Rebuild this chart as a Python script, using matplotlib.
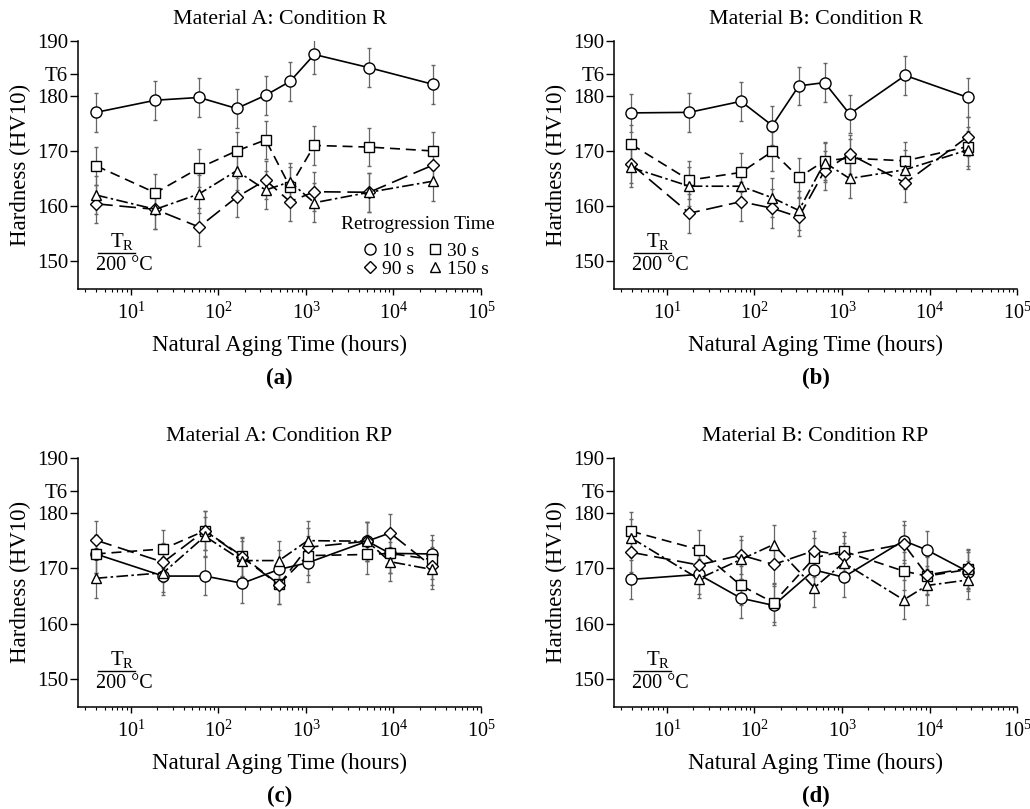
import matplotlib
matplotlib.use('Agg')
from matplotlib import pyplot as plt
from matplotlib.lines import Line2D
from matplotlib.ticker import FixedLocator, LogLocator, NullFormatter

plt.rcParams['font.family'] = ['Liberation Serif', 'DejaVu Serif']
plt.rcParams['mathtext.fontset'] = 'custom'
plt.rcParams['mathtext.rm'] = 'Liberation Serif'
plt.rcParams['mathtext.it'] = 'Liberation Serif:italic'

# natural aging time (hours) and hardness (HV10) per retrogression time
times_a = [4, 19, 60, 161, 346, 656, 1245, 5280, 28000]
hv10_a = [177.0, 179.2, 179.7, 177.7, 180.1, 182.6, 187.5, 185.1, 182.1]
hv30_a = [167.3, 162.4, 166.9, 170.0, 172.0, 163.5, 171.0, 170.7, 170.0]
hv90_a = [160.4, 159.4, 156.2, 161.6, 164.7, 160.8, 162.6, 162.5, 167.4]
hv150_a = [162.0, 159.4, 162.2, 166.4, 162.9, 164.4, 160.6, 162.5, 164.5]

times_b = [3.9, 18, 70, 160, 321, 632, 1222, 5280, 27500]
hv10_b = [176.9, 177.0, 179.0, 174.6, 181.8, 182.4, 176.7, 183.7, 179.7]
hv30_b = [171.2, 164.7, 166.1, 169.9, 165.2, 168.2, 168.7, 168.2, 170.8]
hv90_b = [167.6, 158.7, 160.8, 159.6, 158.0, 166.4, 169.4, 164.2, 172.6]
hv150_b = [167.0, 163.6, 163.6, 161.5, 159.2, 167.9, 165.0, 166.6, 170.2]

times_c = [3.95, 23.4, 70, 187, 491, 1045, 5010, 9120, 27350]
hv10_c = [172.6, 168.6, 168.6, 167.3, 169.8, 171.0, 174.9, 172.7, 172.6]
hv30_c = [172.6, 173.5, 176.8, 172.2, 167.1, 172.3, 172.5, 172.7, 171.6]
hv90_c = [175.1, 171.1, 176.8, 172.0, 167.0, 173.8, 174.9, 176.4, 170.4]
hv150_c = [168.2, 169.2, 175.8, 171.4, 171.4, 175.0, 174.9, 171.2, 169.8]

times_d = [3.9, 23, 70, 165, 482, 1042, 5060, 9350, 27500]
hv10_d = [168.0, 168.9, 164.6, 163.3, 169.7, 168.4, 175.0, 173.3, 169.4]
hv30_d = [176.7, 173.4, 166.9, 163.8, 171.9, 173.1, 169.5, 168.6, 169.8]
hv90_d = [172.9, 170.6, 172.4, 170.7, 173.2, 172.3, 174.4, 168.8, 170.0]
hv150_d = [175.5, 168.1, 171.6, 174.3, 166.5, 171.0, 164.3, 166.9, 167.9]

hv_err = 3.5

retro_labels = ['10 s', '30 s', '90 s', '150 s']
panel_titles = ['Material A: Condition R', 'Material B: Condition R',
                'Material A: Condition RP', 'Material B: Condition RP']
panel_tags = ['(a)', '(b)', '(c)', '(d)']
ytick_values = [150, 160, 170, 180, 184, 190]
ytick_labels = ['150', '160', '170', '180', 'T6', '190']

styles = [
    dict(marker='o', ms=8, ls='-'),
    dict(marker='s', ms=6.5, ls=(0, (6, 3.5))),
    dict(marker='D', ms=5.8, ls=(0, (10, 4))),
    dict(marker='^', ms=7.5, ls=(0, (7, 2, 1.5, 2))),
]

panels = [
    (times_a, [hv10_a, hv30_a, hv90_a, hv150_a]),
    (times_b, [hv10_b, hv30_b, hv90_b, hv150_b]),
    (times_c, [hv10_c, hv30_c, hv90_c, hv150_c]),
    (times_d, [hv10_d, hv30_d, hv90_d, hv150_d]),
]

fig = plt.figure(figsize=(10.3, 8.09), dpi=100)
positions = [
    [0.0757, 0.6431, 0.3913, 0.3066],
    [0.5961, 0.6431, 0.3913, 0.3066],
    [0.0757, 0.1265, 0.3913, 0.3078],
    [0.5961, 0.1265, 0.3913, 0.3078],
]

for i, (times, series) in enumerate(panels):
    ax = fig.add_axes(positions[i])
    for values, st in zip(series, styles):
        ax.errorbar(times, values, yerr=hv_err, color='black', lw=1.2,
                    ls=st['ls'], marker=st['marker'], ms=st['ms'],
                    mfc='white', mec='black', mew=1.0,
                    ecolor='#666666', elinewidth=0.9, capsize=1.5,
                    capthick=0.8)

    ax.set_xscale('log')
    ax.set_ylim(145, 190)
    ax.yaxis.set_major_locator(FixedLocator(ytick_values))
    ax.set_yticklabels(ytick_labels)
    ax.xaxis.set_minor_locator(LogLocator(base=10, subs=range(2, 10)))
    ax.xaxis.set_minor_formatter(NullFormatter())
    ax.set_xticks([10, 100, 1000, 10000, 100000])
    ax.set_xticklabels([r'$10^{1}$', r'$10^{2}$', r'$10^{3}$', r'$10^{4}$',
                        r'$10^{5}$'])
    ax.set_xlim(2.48, 1e5)

    for side in ['top', 'right']:
        ax.spines[side].set_visible(False)
    for side in ['left', 'bottom']:
        ax.spines[side].set_linewidth(1.1)
    ax.tick_params(axis='y', direction='out', length=6, width=1.0,
                   labelsize=15, pad=1)
    ax.tick_params(axis='x', which='major', direction='out', length=4,
                   width=1.0, labelsize=14.5, pad=6)
    ax.tick_params(axis='x', which='minor', direction='out', length=2.5,
                   width=0.8)

    ax.set_title(panel_titles[i], fontsize=15.8, pad=12)
    ax.set_ylabel('Hardness (HV10)', fontsize=16.5, labelpad=4)
    ax.set_xlabel('Natural Aging Time (hours)', fontsize=16.5, labelpad=8)
    ax.text(0.5, -0.36, panel_tags[i], transform=ax.transAxes,
            ha='center', va='center', fontsize=16.5, fontweight='bold')

    # retrogression temperature note
    ax.text(0.11, 0.19, r'T$_{\mathrm{R}}$', transform=ax.transAxes,
            ha='center', va='center', fontsize=15)
    ax.plot([0.05, 0.142], [0.145, 0.145], transform=ax.transAxes,
            color='black', lw=1.0, clip_on=False)
    ax.text(0.115, 0.092, '200 °C', transform=ax.transAxes,
            ha='center', va='center', fontsize=14.5)

    if i == 0:
        handles = [Line2D([], [], color='black', ls='none', marker=st['marker'],
                          ms=st['ms'], mfc='white', mew=1.0) for st in styles]
        order = [0, 2, 1, 3]
        ax.text(0.842, 0.257, 'Retrogression Time', transform=ax.transAxes,
                ha='center', va='center', fontsize=14)
        ax.legend([handles[k] for k in order],
                  [retro_labels[k] for k in order],
                  ncol=2, frameon=False,
                  loc='lower right', bbox_to_anchor=(1.053, -0.012),
                  fontsize=14, handletextpad=0.1,
                  columnspacing=0.6, handlelength=1.0,
                  labelspacing=0.05, borderpad=0.2)

fig.savefig('out.png', dpi=100)
